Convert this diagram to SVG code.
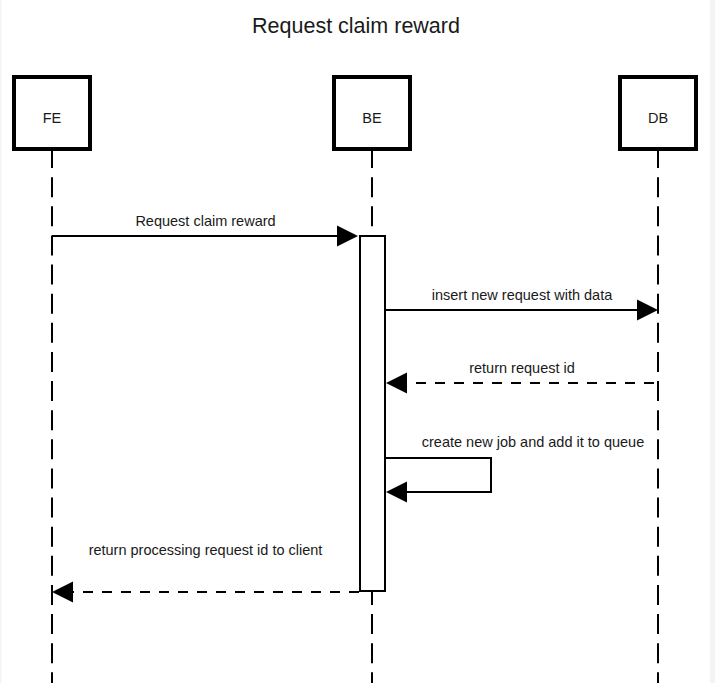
<svg xmlns="http://www.w3.org/2000/svg" width="715" height="683" viewBox="0 0 715 683">
<defs>
<style>
.bg{fill:#ffffff}
.edge{fill:#f4f4f4}
.actor{fill:#ffffff;stroke:#000000;stroke-width:4}
.life{fill:none;stroke:#000000;stroke-width:2;stroke-dasharray:20 9.125}
.act{fill:#ffffff;stroke:#000000;stroke-width:2}
.msg{fill:none;stroke:#000000;stroke-width:2}
.ret{fill:none;stroke:#000000;stroke-width:2;stroke-dasharray:10 9}
.head{fill:#000000;stroke:none}
.lbl{font-family:"Liberation Sans",Arial,Helvetica,sans-serif;font-size:14.5px;fill:#1a1a1a;text-anchor:middle}
.title{font-family:"Liberation Sans",Arial,Helvetica,sans-serif;font-size:21.5px;fill:#1a1a1a;text-anchor:middle}
</style>
</defs>
<rect class="bg" x="0" y="0" width="715" height="683"/>
<rect class="edge" x="0" y="0" width="1.5" height="683"/>
<rect class="edge" x="710" y="0" width="5" height="683"/>
<text class="title" x="356" y="33">Request claim reward</text>
<g id="lifelines">
<line class="life" x1="52" y1="148" x2="52" y2="683"/>
<line class="life" x1="372" y1="148" x2="372" y2="683"/>
<line class="life" x1="658" y1="148" x2="658" y2="683"/>
</g>
<g id="node-fe">
<rect class="actor" x="14" y="77" width="76" height="72"/>
<text class="lbl" x="52" y="123">FE</text>
</g>
<g id="node-be">
<rect class="actor" x="334" y="77" width="76" height="72"/>
<text class="lbl" x="372" y="123">BE</text>
</g>
<g id="node-db">
<rect class="actor" x="620" y="77" width="76" height="72"/>
<text class="lbl" x="658" y="123">DB</text>
</g>
<g id="node-be-activation">
<rect class="act" x="360" y="236" width="25" height="355"/>
</g>
<g id="connectors">
<line class="msg" x1="52" y1="236" x2="338" y2="236"/>
<path class="head" d="M358,236 L337,225.5 L337,246.5 Z"/>
<text class="lbl" x="205.5" y="225.5">Request claim reward</text>

<line class="msg" x1="386" y1="310" x2="638" y2="310"/>
<path class="head" d="M658,310 L637,299.5 L637,320.5 Z"/>
<text class="lbl" x="522" y="299.5">insert new request with data</text>

<line class="ret" x1="658" y1="383" x2="406" y2="383" stroke-dashoffset="15"/>
<path class="head" d="M386,383 L407,372.5 L407,393.5 Z"/>
<text class="lbl" x="522" y="373">return request id</text>

<path class="msg" d="M386,458 L491,458 L491,492 L406,492"/>
<path class="head" d="M386,492 L407,481.5 L407,502.5 Z"/>
<text class="lbl" x="533" y="447">create new job and add it to queue</text>

<line class="ret" x1="359" y1="592" x2="73" y2="592"/>
<path class="head" d="M52,592 L73,581.5 L73,602.5 Z"/>
<text class="lbl" x="205.5" y="555">return processing request id to client</text>
</g>
</svg>
